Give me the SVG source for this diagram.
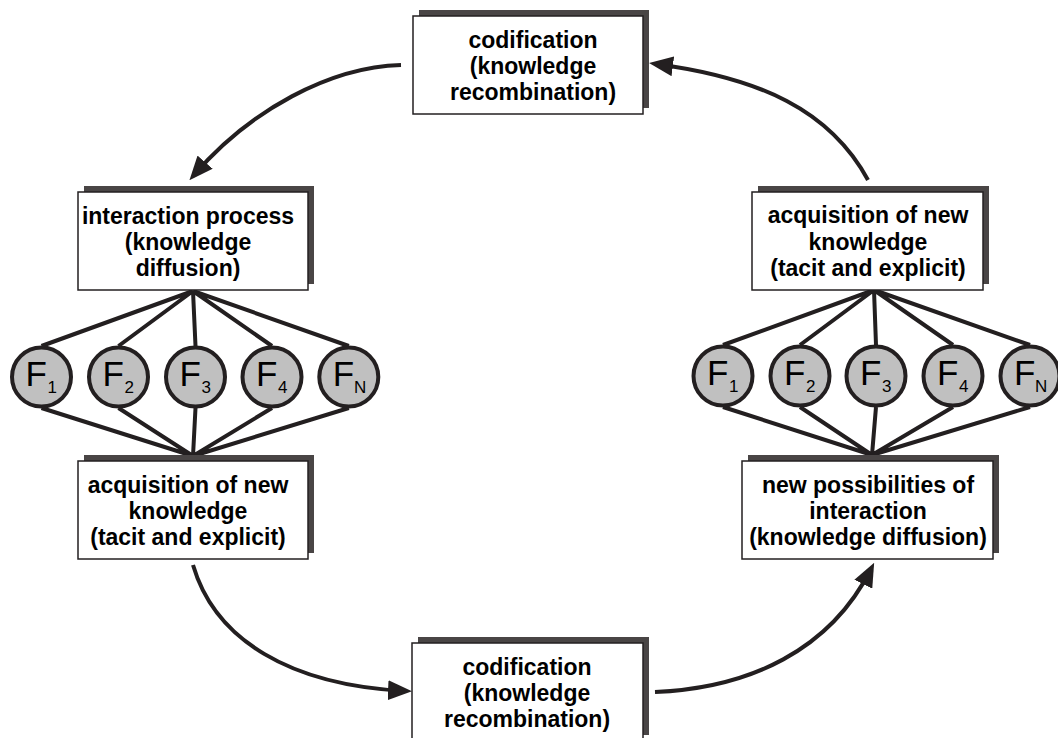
<svg xmlns="http://www.w3.org/2000/svg" width="1058" height="738" viewBox="0 0 1058 738">
<defs>
<style>
.shadow{fill:#494545;}
.box{fill:#ffffff;stroke:#231f20;stroke-width:1.5;}
.lbl{font-family:"Liberation Sans",Arial,sans-serif;font-weight:bold;font-size:23px;fill:#000;text-anchor:middle;}
.link{stroke:#231f20;stroke-width:4;fill:none;}
.arrow{stroke:#231f20;stroke-width:4;fill:none;marker-end:url(#ah);}
.firm{fill:#c0c0c0;stroke:#231f20;stroke-width:4;}
.fl{font-family:"Liberation Sans",Arial,sans-serif;font-size:35px;fill:#000;}
.fs{font-family:"Liberation Sans",Arial,sans-serif;font-size:17px;fill:#000;}
</style>
<marker id="ah" markerUnits="userSpaceOnUse" viewBox="0 0 24 20" refX="17" refY="10" markerWidth="24" markerHeight="20" orient="auto">
<path d="M0,0 L24,10 L0,20 z" fill="#231f20"/>
</marker>
</defs>

<g id="connectors">
<path class="arrow" d="M401,65 C330,67 250,110 194,175"/>
<path class="arrow" d="M868,180 C830,110 760,78 656,64"/>
<path class="arrow" d="M193,565 C215,640 290,685 405,691"/>
<path class="arrow" d="M655,692 C750,688 830,650 871,569"/>
<g id="left-links">
<path class="link" d="M193,291 L41.5,346 M193,291 L118.5,346 M193,291 L195.5,346 M193,291 L272,346 M193,291 L348.8,346"/>
<path class="link" d="M193,456 L41.5,408 M193,456 L118.5,408 M193,456 L195.5,408 M193,456 L272,408 M193,456 L348.8,408"/>
</g>
<g id="right-links">
<path class="link" d="M874,290 L723,345 M874,290 L800,345 M874,290 L876,345 M874,290 L953,345 M874,290 L1030,345"/>
<path class="link" d="M872,455 L723,407 M872,455 L800,407 M872,455 L876,407 M872,455 L953,407 M872,455 L1030,407"/>
</g>
</g>

<g id="codification-top">
<rect class="shadow" x="419" y="10" width="230" height="98"/>
<rect class="box" x="413" y="16" width="230" height="98"/>
<text class="lbl" x="533" y="48">codification</text>
<text class="lbl" x="533" y="74">(knowledge</text>
<text class="lbl" x="533" y="100">recombination)</text>
</g>

<g id="interaction-process">
<rect class="shadow" x="84" y="186" width="230" height="98"/>
<rect class="box" x="78" y="192" width="230" height="98"/>
<text class="lbl" x="188" y="224">interaction process</text>
<text class="lbl" x="188" y="250">(knowledge</text>
<text class="lbl" x="188" y="276">diffusion)</text>
</g>

<g id="acquisition-left">
<rect class="shadow" x="84" y="455" width="230" height="98"/>
<rect class="box" x="78" y="461" width="230" height="98"/>
<text class="lbl" x="188" y="493">acquisition of new</text>
<text class="lbl" x="188" y="519">knowledge</text>
<text class="lbl" x="188" y="545">(tacit and explicit)</text>
</g>

<g id="codification-bottom">
<rect class="shadow" x="418" y="637" width="231" height="98"/>
<rect class="box" x="412" y="643" width="231" height="98"/>
<text class="lbl" x="527" y="675">codification</text>
<text class="lbl" x="527" y="701">(knowledge</text>
<text class="lbl" x="527" y="727">recombination)</text>
</g>

<g id="acquisition-right">
<rect class="shadow" x="758" y="186" width="231" height="98"/>
<rect class="box" x="752" y="192" width="231" height="98"/>
<text class="lbl" x="868" y="223">acquisition of new</text>
<text class="lbl" x="868" y="250">knowledge</text>
<text class="lbl" x="868" y="276">(tacit and explicit)</text>
</g>

<g id="new-possibilities">
<rect class="shadow" x="748" y="455" width="251" height="98"/>
<rect class="box" x="742" y="461" width="251" height="98"/>
<text class="lbl" x="868" y="493">new possibilities of</text>
<text class="lbl" x="868" y="519">interaction</text>
<text class="lbl" x="868" y="545">(knowledge diffusion)</text>
</g>

<g id="left-F1"><circle class="firm" cx="41.5" cy="377" r="29.5"/><text class="fl" x="25.5" y="386">F</text><text class="fs" x="47.5" y="393">1</text></g>
<g id="left-F2"><circle class="firm" cx="118.5" cy="377" r="29.5"/><text class="fl" x="102.5" y="386">F</text><text class="fs" x="124.5" y="393">2</text></g>
<g id="left-F3"><circle class="firm" cx="195.5" cy="377" r="29.5"/><text class="fl" x="179.5" y="386">F</text><text class="fs" x="201.5" y="393">3</text></g>
<g id="left-F4"><circle class="firm" cx="272" cy="377" r="29.5"/><text class="fl" x="256" y="386">F</text><text class="fs" x="278" y="393">4</text></g>
<g id="left-FN"><circle class="firm" cx="348.8" cy="377" r="29.5"/><text class="fl" x="332.8" y="386">F</text><text class="fs" x="354" y="393">N</text></g>

<g id="right-F1"><circle class="firm" cx="723" cy="376" r="29.5"/><text class="fl" x="707" y="385">F</text><text class="fs" x="729" y="392">1</text></g>
<g id="right-F2"><circle class="firm" cx="800" cy="376" r="29.5"/><text class="fl" x="784" y="385">F</text><text class="fs" x="806" y="392">2</text></g>
<g id="right-F3"><circle class="firm" cx="876" cy="376" r="29.5"/><text class="fl" x="860" y="385">F</text><text class="fs" x="882" y="392">3</text></g>
<g id="right-F4"><circle class="firm" cx="953" cy="376" r="29.5"/><text class="fl" x="937" y="385">F</text><text class="fs" x="959" y="392">4</text></g>
<g id="right-FN"><circle class="firm" cx="1030" cy="376" r="29.5"/><text class="fl" x="1014" y="385">F</text><text class="fs" x="1035" y="392">N</text></g>
</svg>
